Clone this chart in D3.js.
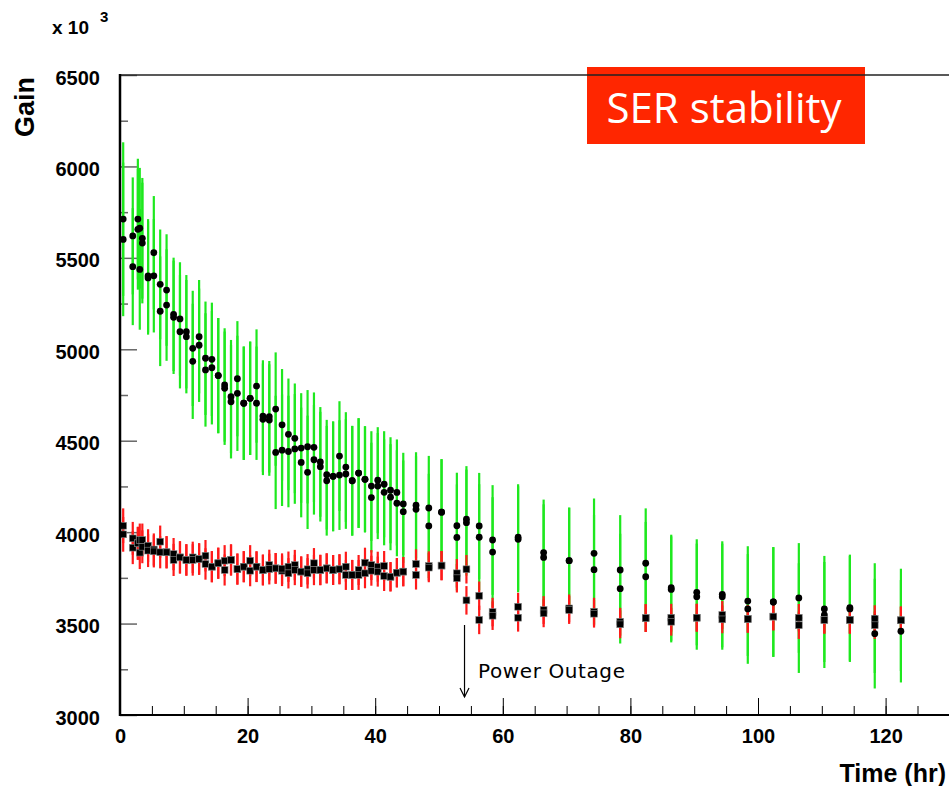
<!DOCTYPE html>
<html><head><meta charset="utf-8">
<script src="https://cdn.jsdelivr.net/npm/d3@7"></script>
<style>body{margin:0;background:#fff;} svg{display:block;}</style>
</head><body>
<svg id="chart" width="949" height="786"></svg>
<script>
// ---- data ----
const hours = [0.5,2.0,2.8,3.1,3.5,4.4,5.3,6.3,7.3,8.4,9.4,10.4,11.4,12.4,13.4,14.4,15.4,16.4,17.4,18.4,19.4,20.4,21.4,22.4,23.4,24.4,25.4,26.4,27.4,28.4,29.4,30.4,31.4,32.4,33.4,34.4,35.4,36.4,37.4,38.4,39.4,40.4,41.4,42.4,43.4,44.4,46.4,48.4,50.4,52.8,54.3,56.3,58.4,62.4,66.4,70.4,74.3,78.4,82.4,86.4,90.4,94.4,98.4,102.4,106.4,110.4,114.4,118.3,122.4];
const greenA = [5712,5620,5712,5662,5607,5402,5528,5355,5324,5191,5166,5096,5005,5069,4951,4945,4856,4805,4741,4839,4705,4732,4799,4635,4631,4673,4587,4535,4513,4460,4467,4464,4384,4314,4305,4416,4356,4281,4323,4289,4252,4284,4262,4229,4217,4154,4147,4132,4109,4035,4071,4034,3957,3972,3888,3844,3884,3793,3830,3696,3671,3660,3623,3618,3640,3580,3587,3530,3520];
const greenB = [5601,5452,5656,5437,5581,5390,5402,5208,5242,5175,5096,5069,4934,5022,4887,4899,4856,4787,4713,4759,4705,4732,4705,4617,4613,4436,4448,4441,4455,4381,4327,4396,4358,4281,4305,4312,4318,4281,4323,4289,4189,4252,4218,4191,4158,4112,4125,4034,4109,3971,4052,3972,3891,3961,3862,3844,3795,3691,3756,3687,3647,3647,3580,3618,3530,3547,3580,3445,3458];
const greenErr = [420,320,330,330,330,310,310,300,305,310,310,310,315,310,310,310,315,310,310,315,310,310,310,305,305,310,305,305,300,300,310,300,300,300,300,300,300,300,300,290,300,290,290,290,290,280,290,285,290,290,290,290,300,290,290,290,300,300,300,290,290,290,300,300,300,290,290,300,280];
const redA = [4035,3966,3939,3957,3920,3926,3905,3948,3890,3880,3862,3848,3862,3853,3871,3811,3830,3844,3848,3798,3811,3844,3811,3793,3820,3802,3789,3811,3820,3784,3797,3830,3793,3802,3793,3797,3811,3766,3793,3833,3820,3811,3815,3756,3778,3784,3826,3815,3817,3775,3797,3652,3563,3592,3574,3583,3565,3510,3530,3532,3532,3547,3525,3538,3532,3520,3520,3525,3518];
const redB = [3988,3915,3939,3888,3957,3899,3895,3890,3890,3848,3862,3848,3848,3853,3826,3811,3830,3793,3848,3798,3811,3789,3811,3793,3798,3802,3800,3775,3793,3784,3775,3793,3793,3802,3793,3797,3766,3766,3766,3775,3789,3784,3760,3756,3778,3784,3766,3806,3817,3748,3627,3520,3543,3532,3556,3574,3554,3496,3530,3510,3532,3523,3525,3538,3491,3520,3520,3491,3518];
const redErr = [95,90,90,90,90,90,88,88,88,88,88,86,86,86,86,85,85,85,85,85,85,85,84,84,84,84,84,83,83,83,83,83,83,82,82,82,82,82,82,82,82,82,82,80,80,80,80,80,80,78,78,78,78,76,76,76,76,76,76,76,76,76,75,75,75,75,75,75,75];
const xMajorTicks = [0,20,40,60,80,100,120];
const xMinorTicks = [0,5,10,15,20,25,30,35,40,45,50,55,60,65,70,75,80,85,90,95,100,105,110,115,120,125];
const yMajorTicks = [3000,3500,4000,4500,5000,5500,6000,6500];
const yMinorTicks = [3250,3750,4250,4750,5250,5750,6250];
const titleText = "SER stability";
const annotationText = "Power Outage";
const outageHour = 54;

// ---- chart ----
const svg = d3.select('#chart');
const x = d3.scaleLinear().domain([0,130]).range([120, 949.4]);
const y = d3.scaleLinear().domain([3000,6500]).range([715, 75]);

const greenPts = hours.flatMap((t,i)=>[{t, v:greenA[i], e:greenErr[i]},{t, v:greenB[i], e:greenErr[i]}]);
const redPts = hours.flatMap((t,i)=>[{t, v:redA[i], e:redErr[i]},{t, v:redB[i], e:redErr[i]}]);

// title box
svg.append('rect').attr('x',587).attr('y',67).attr('width',278).attr('height',77).attr('fill','#ff2600');
svg.append('text').attr('x',724).attr('y',123).attr('text-anchor','middle')
  .attr('font-family','"Open Sans", sans-serif').attr('font-size',42).attr('fill','#fff').text(titleText);

// axes ticks
const axFont = g => g.selectAll('text').attr('font-family','"Liberation Sans", Arial, sans-serif')
  .attr('font-weight','bold').attr('font-size',20).attr('fill','#000');
svg.append('g').attr('transform','translate(0,715)')
  .call(d3.axisBottom(x).tickValues(xMinorTicks).tickSize(-9).tickFormat(''))
  .call(g=>g.select('.domain').remove())
  .call(g=>g.selectAll('line').attr('stroke','#000').attr('stroke-width',1));
svg.append('g').attr('transform','translate(0,715)')
  .call(d3.axisBottom(x).tickValues(xMajorTicks).tickSize(-17).tickPadding(14).tickFormat(d3.format('d')))
  .call(g=>g.select('.domain').remove())
  .call(g=>g.selectAll('line').attr('stroke','#000').attr('stroke-width',1))
  .call(axFont);
svg.append('g').attr('transform','translate(120,0)')
  .call(d3.axisLeft(y).tickValues(yMinorTicks).tickSize(-8).tickFormat(''))
  .call(g=>g.select('.domain').remove())
  .call(g=>g.selectAll('line').attr('stroke','#666').attr('stroke-width',1.5));
svg.append('g').attr('transform','translate(120,0)')
  .call(d3.axisLeft(y).tickValues(yMajorTicks).tickSize(-17).tickPadding(20).tickFormat(d3.format('d')))
  .call(g=>g.select('.domain').remove())
  .call(g=>g.selectAll('line').attr('stroke','#666').attr('stroke-width',1.5))
  .call(axFont)
  .call(g=>g.selectAll('text').attr('dy','0.45em'));

// error bars
svg.append('g').selectAll('line').data(greenPts).join('line')
  .attr('x1',d=>x(d.t)).attr('x2',d=>x(d.t))
  .attr('y1',d=>y(d.v+d.e)).attr('y2',d=>y(d.v-d.e))
  .attr('stroke','#1ee81e').attr('stroke-width',2.2);
svg.append('g').selectAll('line').data(redPts).join('line')
  .attr('x1',d=>x(d.t)).attr('x2',d=>x(d.t))
  .attr('y1',d=>y(d.v+d.e)).attr('y2',d=>y(d.v-d.e))
  .attr('stroke','#ff1a1a').attr('stroke-width',2.2);
// markers
svg.append('g').selectAll('circle').data(greenPts).join('circle')
  .attr('cx',d=>x(d.t)).attr('cy',d=>y(d.v)).attr('r',3.4).attr('fill','#000');
svg.append('g').selectAll('rect').data(redPts).join('rect')
  .attr('x',d=>x(d.t)-3.4).attr('y',d=>y(d.v)-3.4).attr('width',6.8).attr('height',6.8)
  .attr('fill','#000').attr('stroke','#888').attr('stroke-width',0.6);

// frame
svg.append('line').attr('x1',120).attr('x2',949).attr('y1',75).attr('y2',75).attr('stroke','#222').attr('stroke-width',1.3);
svg.append('line').attr('x1',120).attr('x2',949).attr('y1',715).attr('y2',715).attr('stroke','#000').attr('stroke-width',2);
svg.append('line').attr('x1',120).attr('x2',120).attr('y1',74).attr('y2',716).attr('stroke','#000').attr('stroke-width',2.5);

// axis titles
svg.append('text').attr('transform','translate(34,107) rotate(-90)').attr('text-anchor','middle')
  .attr('font-family','"Liberation Sans", Arial, sans-serif').attr('font-weight','bold').attr('font-size',27).text('Gain');
svg.append('text').attr('x',946).attr('y',782).attr('text-anchor','end')
  .attr('font-family','"Liberation Sans", Arial, sans-serif').attr('font-weight','bold').attr('font-size',25).text('Time (hr)');
const mult = svg.append('text').attr('x',52).attr('y',34)
  .attr('font-family','"Liberation Sans", Arial, sans-serif').attr('font-weight','bold').attr('font-size',19);
mult.append('tspan').text('x 10');
mult.append('tspan').attr('x',100).attr('y',22).attr('font-size',15).text('3');

// power outage annotation
const ax = x(outageHour);
svg.append('line').attr('x1',ax).attr('x2',ax).attr('y1',625).attr('y2',697).attr('stroke','#000').attr('stroke-width',1.2);
svg.append('path').attr('d',`M${ax-4.5},688 L${ax},697 L${ax+4.5},688`).attr('fill','none').attr('stroke','#000').attr('stroke-width',1.2);
svg.append('text').attr('x',478).attr('y',678).attr('font-family','"DejaVu Sans", sans-serif')
  .attr('font-size',20).attr('letter-spacing',0.6).attr('fill','#000').text(annotationText);
</script>
</body></html>
